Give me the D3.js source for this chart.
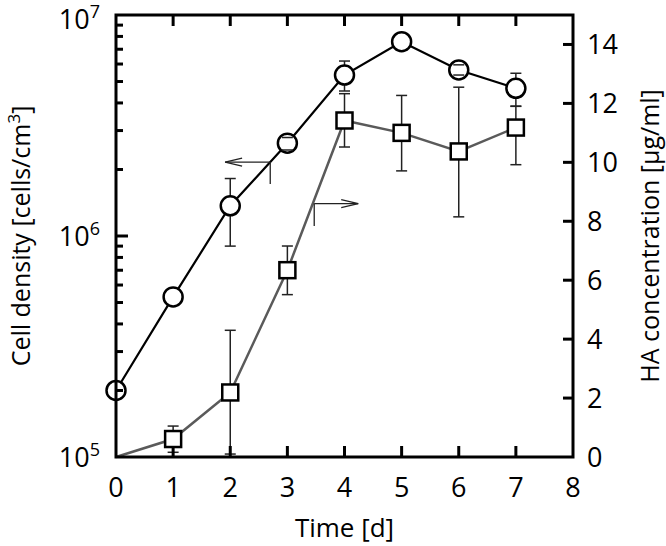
<!DOCTYPE html>
<html>
<head>
<meta charset="utf-8">
<script src="https://cdn.jsdelivr.net/npm/d3@7"></script>
<style>
  body { margin: 0; background: #fff; }
  svg text { font-family: "Open Sans", sans-serif; fill: #000; }
</style>
</head>
<body>
<svg id="chart"></svg>
<script>
// Data
const days = [0, 1, 2, 3, 4, 5, 6, 7];
const cellDensity = [2.0e5, 5.3e5, 1.37e6, 2.63e6, 5.35e6, 7.57e6, 5.64e6, 4.66e6];
const cellLow = [null, null, 9.0e5, 2.45e6, 4.53e6, null, 5.35e6, 3.87e6];
const cellHigh = [null, null, 1.82e6, 2.79e6, 6.19e6, null, 5.95e6, 5.45e6];
const haConc = [0, 0.61, 2.19, 6.34, 11.42, 11.0, 10.37, 11.18];
const haLow = [null, 0.16, 0.1, 5.51, 10.52, 9.71, 8.15, 9.92];
const haHigh = [null, 1.05, 4.3, 7.16, 12.33, 12.27, 12.55, 11.9];
const xTicks = [0, 1, 2, 3, 4, 5, 6, 7, 8];
const leftTicks = [1e5, 1e6, 1e7];
const leftExp = ["5", "6", "7"];
const rightTicks = [0, 2, 4, 6, 8, 10, 12, 14];

// Set dimensions
const width = 666, height = 546;
const margin = { top: 15, right: 93, bottom: 89, left: 116 };

const svg = d3.select("#chart")
    .attr("width", width)
    .attr("height", height);

// Scales
const xScale = d3.scaleLinear()
    .domain([0, 8])
    .range([margin.left, width - margin.right]);

const yLeft = d3.scaleLog()
    .domain([1e5, 1e7])
    .range([height - margin.bottom, margin.top]);

const yRight = d3.scaleLinear()
    .domain([0, 15])
    .range([height - margin.bottom, margin.top]);

const minorTicks = [];
[1e5, 1e6].forEach(b => { for (let k = 2; k <= 9; k++) minorTicks.push(b * k); });

// Error bars (stems)
function stems(vals, lo, hi, scale, color) {
    const idx = d3.range(vals.length).filter(i => lo[i] != null);
    svg.append("g").selectAll("line")
        .data(idx).enter().append("line")
        .attr("x1", i => xScale(days[i])).attr("x2", i => xScale(days[i]))
        .attr("y1", i => scale(lo[i])).attr("y2", i => scale(hi[i]))
        .attr("stroke", color).attr("stroke-width", 1.5);
}
function caps(vals, lo, hi, scale, color) {
    const idx = d3.range(vals.length).filter(i => lo[i] != null);
    const g = svg.append("g");
    [lo, hi].forEach(arr => {
        g.selectAll(null)
            .data(idx).enter().append("line")
            .attr("x1", i => xScale(days[i]) - 5.5).attr("x2", i => xScale(days[i]) + 5.5)
            .attr("y1", i => scale(arr[i])).attr("y2", i => scale(arr[i]))
            .attr("stroke", color).attr("stroke-width", 1.5);
    });
}

stems(haConc, haLow, haHigh, yRight, "#222");
stems(cellDensity, cellLow, cellHigh, yLeft, "#222");

// Lines
const haLine = d3.line().x((d, i) => xScale(days[i])).y(d => yRight(d));
const cellLine = d3.line().x((d, i) => xScale(days[i])).y(d => yLeft(d));

svg.append("path")
    .datum(haConc)
    .attr("fill", "none")
    .attr("stroke", "#5a5a5a")
    .attr("stroke-width", 2.5)
    .attr("d", haLine);

svg.append("path")
    .datum(cellDensity)
    .attr("fill", "none")
    .attr("stroke", "#000")
    .attr("stroke-width", 2.2)
    .attr("d", cellLine);

// Markers
svg.append("g").selectAll("rect")
    .data(d3.range(haConc.length).filter(i => haConc[i] > 0))
    .enter().append("rect")
    .attr("x", i => xScale(days[i]) - 8)
    .attr("y", i => yRight(haConc[i]) - 8)
    .attr("width", 16).attr("height", 16)
    .attr("fill", "#fff").attr("stroke", "#000").attr("stroke-width", 2.5);

svg.append("g").selectAll("circle")
    .data(cellDensity)
    .enter().append("circle")
    .attr("cx", (d, i) => xScale(days[i]))
    .attr("cy", d => yLeft(d))
    .attr("r", 9.5)
    .attr("fill", "#fff").attr("stroke", "#000").attr("stroke-width", 2.5);

caps(haConc, haLow, haHigh, yRight, "#222");
caps(cellDensity, cellLow, cellHigh, yLeft, "#222");

// Arrows showing which axis each series belongs to
function arrow(xFrom, xTip, yv, yDrop, scale) {
    const y0 = scale(yv);
    const x0 = xScale(xFrom), x1 = xScale(xTip);
    const dir = x1 < x0 ? 1 : -1;
    const g = svg.append("g").attr("stroke", "#222").attr("stroke-width", 1.3).attr("fill", "none");
    g.append("line").attr("x1", x0).attr("x2", x1).attr("y1", y0).attr("y2", y0);
    g.append("line").attr("x1", x0).attr("x2", x0).attr("y1", y0).attr("y2", scale(yDrop));
    g.append("path").attr("d", `M${x1 + dir * 17},${y0 - 4}L${x1},${y0}L${x1 + dir * 17},${y0 + 4}`);
}
arrow(2.70, 1.91, 2.16e6, 1.72e6, yLeft);
arrow(3.47, 4.24, 8.6, 7.84, yRight);

// Frame
const x0 = margin.left, x1 = width - margin.right;
const yT = margin.top, yB = height - margin.bottom;
svg.append("rect")
    .attr("x", x0).attr("y", yT)
    .attr("width", x1 - x0).attr("height", yB - yT)
    .attr("fill", "none").attr("stroke", "#000").attr("stroke-width", 3);

const ticks = svg.append("g").attr("stroke", "#000").attr("stroke-width", 3);
// Bottom and top ticks (inward)
ticks.selectAll(null).data(xTicks.slice(1, -1)).enter().append("line")
    .attr("x1", d => xScale(d)).attr("x2", d => xScale(d))
    .attr("y1", yB).attr("y2", yB - 11);
ticks.selectAll(null).data(xTicks.slice(1, -1)).enter().append("line")
    .attr("x1", d => xScale(d)).attr("x2", d => xScale(d))
    .attr("y1", yT).attr("y2", yT + 11);
// Left ticks
ticks.selectAll(null).data(minorTicks).enter().append("line")
    .attr("x1", x0).attr("x2", x0 + 7)
    .attr("y1", d => yLeft(d)).attr("y2", d => yLeft(d));
ticks.selectAll(null).data(leftTicks.slice(1, -1)).enter().append("line")
    .attr("x1", x0).attr("x2", x0 + 12)
    .attr("y1", d => yLeft(d)).attr("y2", d => yLeft(d));
// Right ticks
ticks.selectAll(null).data(rightTicks.slice(1)).enter().append("line")
    .attr("x1", x1).attr("x2", x1 - 10)
    .attr("y1", d => yRight(d)).attr("y2", d => yRight(d));

// Tick labels
svg.append("g").selectAll("text")
    .data(xTicks).enter().append("text")
    .attr("x", d => xScale(d)).attr("y", yB + 40)
    .attr("text-anchor", "middle")
    .style("font-size", "27px")
    .text(d => d);

svg.append("g").selectAll("text")
    .data(rightTicks).enter().append("text")
    .attr("x", x1 + 14).attr("y", d => yRight(d) + 10)
    .style("font-size", "27px")
    .text(d => d);

const lt = svg.append("g").selectAll("text")
    .data(leftTicks).enter().append("text")
    .attr("x", x0 - 16).attr("y", d => Math.max(yLeft(d) + 10, 29))
    .attr("text-anchor", "end")
    .style("font-size", "27px");
lt.append("tspan").text("10");
lt.append("tspan").attr("dy", -11).style("font-size", "18px").text((d, i) => leftExp[i]);

// Axis titles
svg.append("text")
    .attr("x", (x0 + x1) / 2).attr("y", 537)
    .attr("text-anchor", "middle")
    .style("font-size", "26px")
    .text("Time [d]");

const lTitle = svg.append("text")
    .attr("transform", `translate(30,${(yT + yB) / 2}) rotate(-90)`)
    .attr("text-anchor", "middle")
    .style("font-size", "25px");
lTitle.append("tspan").text("Cell density [cells/cm");
lTitle.append("tspan").attr("dy", -10).style("font-size", "17px").text("3");
lTitle.append("tspan").attr("dy", 10).text("]");

svg.append("text")
    .attr("transform", `translate(659,${(yT + yB) / 2}) rotate(-90)`)
    .attr("text-anchor", "middle")
    .style("font-size", "25px")
    .text("HA concentration [µg/ml]");
</script>
</body>
</html>
